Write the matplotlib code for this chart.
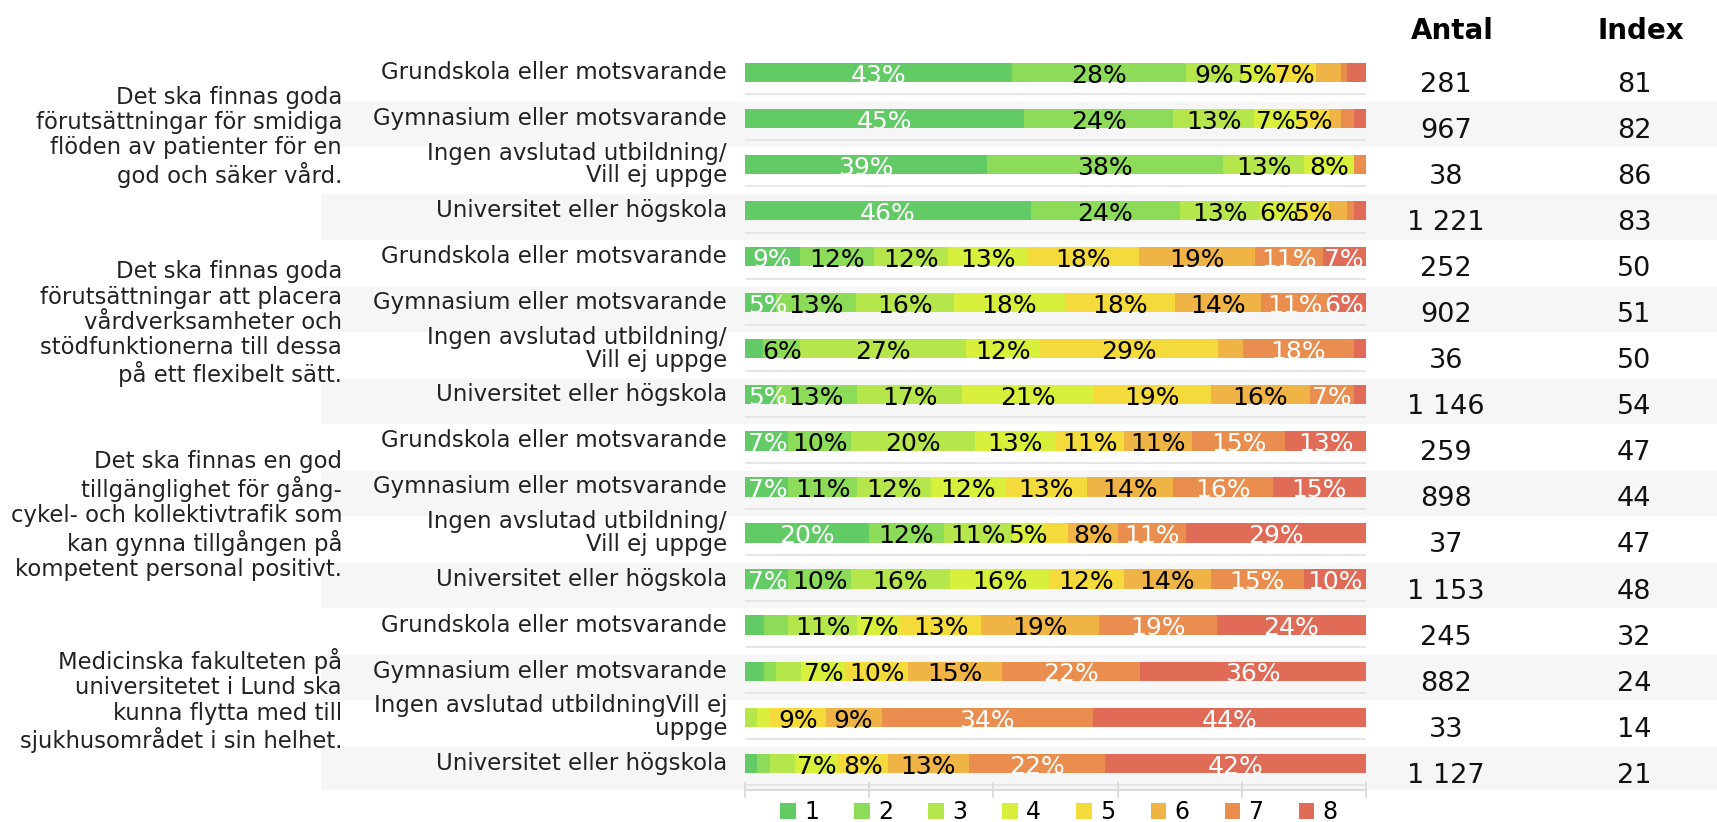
import numpy as np
import matplotlib.pyplot as plt
from matplotlib.patches import Patch

plt.rcParams['font.family'] = ['DejaVu Sans']

# statements (one per group of four rows)
statements = [
    "Det ska finnas goda\nförutsättningar för smidiga\nflöden av patienter för en\ngod och säker vård.",
    "Det ska finnas goda\nförutsättningar att placera\nvårdverksamheter och\nstödfunktionerna till dessa\npå ett flexibelt sätt.",
    "Det ska finnas en god\ntillgänglighet för gång-\ncykel- och kollektivtrafik som\nkan gynna tillgången på\nkompetent personal positivt.",
    "Medicinska fakulteten på\nuniversitetet i Lund ska\nkunna flytta med till\nsjukhusområdet i sin helhet.",
]

rows = [
    "Grundskola eller motsvarande", "Gymnasium eller motsvarande",
    "Ingen avslutad utbildning/\nVill ej uppge", "Universitet eller högskola",
    "Grundskola eller motsvarande", "Gymnasium eller motsvarande",
    "Ingen avslutad utbildning/\nVill ej uppge", "Universitet eller högskola",
    "Grundskola eller motsvarande", "Gymnasium eller motsvarande",
    "Ingen avslutad utbildning/\nVill ej uppge", "Universitet eller högskola",
    "Grundskola eller motsvarande", "Gymnasium eller motsvarande",
    "Ingen avslutad utbildningVill ej\nuppge", "Universitet eller högskola",
]

# share (%) answering 1..8 per row
shares = [
    [43, 28, 9, 5, 7, 4, 1, 3],
    [45, 24, 13, 7, 5, 2, 2, 2],
    [39, 38, 13, 8, 0, 0, 2, 0],
    [46, 24, 13, 6, 5, 3, 1, 2],
    [9, 12, 12, 13, 18, 19, 11, 7],
    [5, 13, 16, 18, 18, 14, 11, 6],
    [3, 6, 27, 12, 29, 4, 18, 2],
    [5, 13, 17, 21, 19, 16, 7, 2],
    [7, 10, 20, 13, 11, 11, 15, 13],
    [7, 11, 12, 12, 13, 14, 16, 15],
    [20, 12, 11, 5, 4, 8, 11, 29],
    [7, 10, 16, 16, 12, 14, 15, 10],
    [3, 4, 11, 7, 13, 19, 19, 24],
    [3, 2, 4, 7, 10, 15, 22, 36],
    [0, 0, 2, 2, 9, 9, 34, 44],
    [2, 2, 4, 7, 8, 13, 22, 42],
]

antal = [281, 967, 38, 1221, 252, 902, 36, 1146, 259, 898, 37, 1153, 245, 882, 33, 1127]
index = [81, 82, 86, 83, 50, 51, 50, 54, 47, 44, 47, 48, 32, 24, 14, 21]

categories = ["1", "2", "3", "4", "5", "6", "7", "8"]
colors = ['#63cb66', '#8cdc5a', '#b5e64c', '#d8f03c', '#f5da3b', '#efb445', '#e98e4e', '#e06b57']
text_colors = ['white', 'black', 'black', 'black', 'black', 'black', 'white', 'white']

# layout (pixels of the 1717x822 canvas)
W, H = 1717, 822
y0_px, dy_px = 72.3, 46.07
top_lim, bot_lim = -0.53, 15.58
group_centers = [1.40, 5.46, 9.62, 13.64]


def fy(v):
    return 1 - (y0_px + v * dy_px) / H


fig = plt.figure(figsize=(W / 100, H / 100), dpi=100)
bottom = fy(bot_lim)
height = fy(top_lim) - bottom

bg = fig.add_axes([0, bottom, 1, height])
bg.set_xlim(0, W)
bg.set_ylim(bot_lim, top_lim)
bg.axis('off')

ax = fig.add_axes([745 / W, bottom, (1366 - 745) / W, height])
ax.set_facecolor('none')
ax.set_ylim(bot_lim, top_lim)
ax.set_xlim(0, 100)

n = len(rows)
for i in range(n):
    if i % 2 == 1:
        bg.axhspan(i - 0.35, i + 0.63, xmin=321 / W, xmax=1, color='#f6f6f6', lw=0, zorder=0)

ax.hlines([i + 0.478 for i in range(n)], 0, 100, color='#e4e4e4', lw=1.3, zorder=1)

for i in range(n):
    vals = np.array(shares[i], dtype=float)
    widths = vals / vals.sum() * 100
    left = 0
    for k in range(8):
        if widths[k] > 0:
            ax.barh(i, widths[k], left=left, height=0.42, color=colors[k], lw=0, zorder=2)
            if shares[i][k] >= 5:
                # keep labels inside the bar ends
                cx = min(max(left + widths[k] / 2, 3.7), 96.5)
                ax.text(cx, i + 0.07, f"{shares[i][k]}%", ha='center', va='center',
                        color=text_colors[k], fontsize=18, zorder=3)
        left += widths[k]

    bg.text(727, i, rows[i], ha='right', va='center', fontsize=16.5, linespacing=0.98,
            multialignment='right', color='#222222')
    bg.text(1446, i + 0.27, f"{antal[i]:,}".replace(",", " "), ha='center', va='center',
            fontsize=19.5, color='#111111')
    bg.text(1634, i + 0.27, str(index[i]), ha='center', va='center', fontsize=19.5, color='#111111')

for g, txt in enumerate(statements):
    bg.text(342, group_centers[g], txt, ha='right', va='center', fontsize=16.4, linespacing=1.12,
            multialignment='right', color='#222222')

bg.text(1452, -0.905, "Antal", ha='center', va='center', fontsize=20, fontweight='bold')
bg.text(1641, -0.905, "Index", ha='center', va='center', fontsize=20, fontweight='bold')

ax.set_xticks(np.arange(0, 101, 20))
ax.set_yticks([])
ax.tick_params(axis='x', direction='inout', length=12, color='#d9d9d9', width=1.2, labelbottom=False)
for s in ['top', 'left', 'right']:
    ax.spines[s].set_visible(False)
ax.spines['bottom'].set_color('#d9d9d9')
ax.spines['bottom'].set_linewidth(1.3)

handles = [Patch(facecolor=c, edgecolor='none') for c in colors]
fig.legend(handles, categories, ncol=8, loc='center', bbox_to_anchor=(1059 / W, 1 - 812 / H),
           frameon=False, fontsize=17, handlelength=0.65, handleheight=0.65,
           handletextpad=0.35, columnspacing=1.5, borderpad=0)

fig.savefig('out.png', dpi=100, facecolor='white')
